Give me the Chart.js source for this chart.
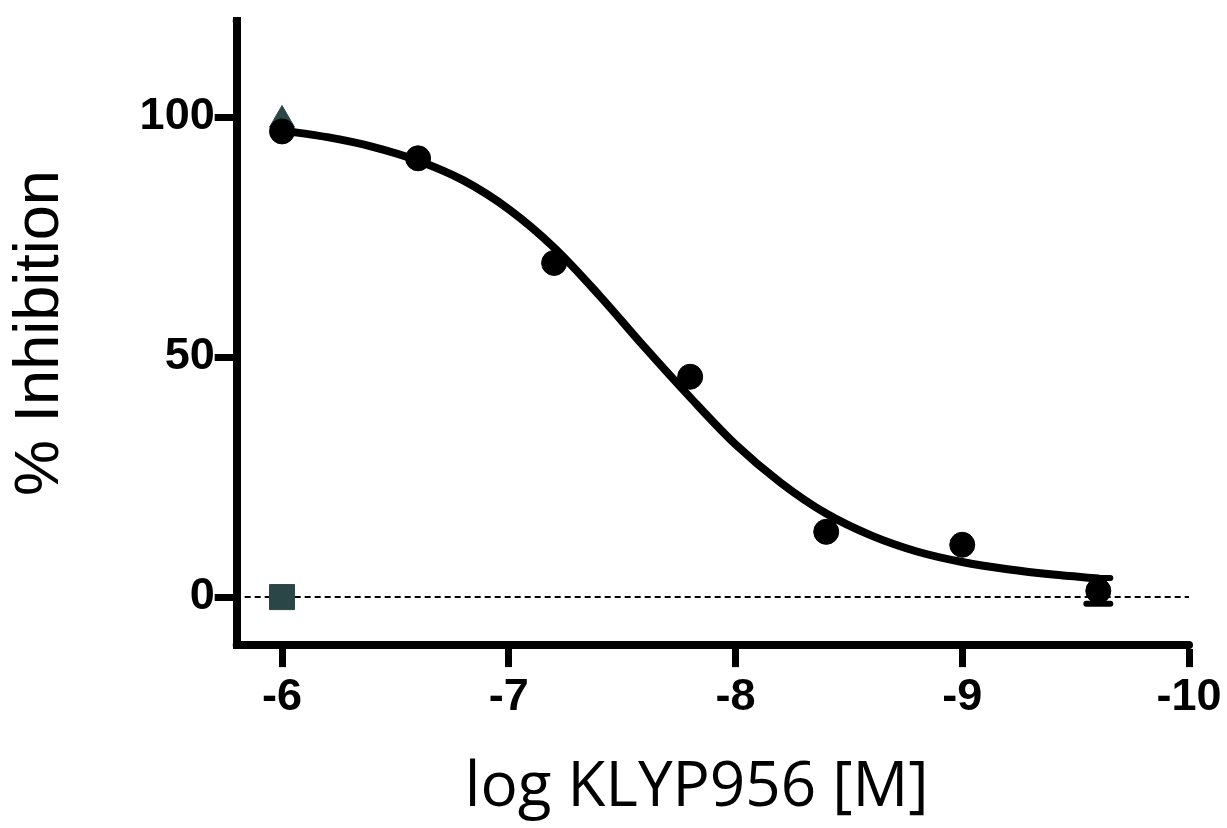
<!DOCTYPE html>
<html>
<head>
<meta charset="utf-8">
<script src="https://cdn.jsdelivr.net/npm/chart.js@4.4.0/dist/chart.umd.min.js"></script>
<style>
  html, body { margin: 0; padding: 0; background: #fff; }
</style>
</head>
<body>
<canvas id="ic50-canvas" width="1227" height="828"></canvas>
<script>
'use strict';

// tick labels
var xTicks = [-10, -9, -8, -7, -6];
var yTicks = [0, 50, 100];

// measured points (mean), last one has an error bar
var logConc = [-6.0, -6.6, -7.2, -7.8, -8.4, -9.0, -9.6];
var inhibition = [97.0, 91.4, 69.6, 45.9, 13.6, 10.9, 1.3];
var inhibitionErr = [0, 0, 0, 0, 0, 0, 2.7];

// controls at the top concentration
var controlX = [-6.0];
var maxControl = [99.4];
var minControl = [0];

// fitted curve
var fitX = [-6.0, -6.2, -6.4, -6.6, -6.8, -7.0, -7.2, -7.4, -7.6, -7.8,
            -8.0, -8.2, -8.4, -8.6, -8.8, -9.0, -9.2, -9.4, -9.6];
var fitY = [97.2, 95.8, 93.8, 90.9, 86.8, 80.8, 72.8, 62.8, 52.0, 41.6,
            31.8, 23.8, 17.4, 12.8, 9.5, 7.3, 5.8, 4.7, 3.9];

function pairs(xs, ys) {
  return xs.map(function(x, i) { return {x: x, y: ys[i]}; });
}

var controlColor = '#2b4647';
var tickFont = {family: 'Liberation Sans', size: 45, weight: 'bold', lineHeight: 0.8};

// dotted zero line behind everything
var zeroLine = {
  id: 'zeroLine',
  beforeDatasetsDraw: function(chart) {
    var ctx = chart.ctx, area = chart.chartArea;
    var y0 = chart.scales.y.getPixelForValue(0);
    ctx.save();
    ctx.strokeStyle = '#000';
    ctx.lineWidth = 2;
    ctx.setLineDash([6, 4]);
    ctx.beginPath();
    ctx.moveTo(area.left + 8, y0);
    ctx.lineTo(area.right, y0);
    ctx.stroke();
    ctx.restore();
  }
};

// SEM error bars
var errorBars = {
  id: 'errorBars',
  afterDatasetsDraw: function(chart) {
    var ctx = chart.ctx, xs = chart.scales.x, ys = chart.scales.y;
    ctx.save();
    ctx.strokeStyle = '#000';
    ctx.lineWidth = 6;
    ctx.lineCap = 'round';
    inhibitionErr.forEach(function(err, i) {
      if (!err) return;
      var px = xs.getPixelForValue(logConc[i]);
      var top = ys.getPixelForValue(inhibition[i] + err);
      var bot = ys.getPixelForValue(inhibition[i] - err);
      ctx.beginPath();
      ctx.moveTo(px, top); ctx.lineTo(px, bot);
      ctx.moveTo(px - 12, top); ctx.lineTo(px + 12, top);
      ctx.moveTo(px - 12, bot); ctx.lineTo(px + 12, bot);
      ctx.stroke();
    });
    ctx.restore();
  }
};

// round the axis ends and the corner like the original
var axisCaps = {
  id: 'axisCaps',
  afterDraw: function(chart) {
    var ctx = chart.ctx, a = chart.chartArea;
    ctx.save();
    ctx.fillStyle = '#000';
    [[a.left, a.top], [a.left, a.bottom], [a.right, a.bottom]].forEach(function(p) {
      ctx.beginPath();
      ctx.arc(p[0], p[1], 4, 0, Math.PI * 2);
      ctx.fill();
    });
    ctx.restore();
  }
};

var config = {
  type: 'scatter',
  data: {
    datasets: [
      {
        label: 'KLYP956',
        data: pairs(logConc, inhibition),
        backgroundColor: '#000',
        borderColor: '#000',
        pointRadius: 12.5,
        pointHoverRadius: 12.5
      },
      {
        label: 'fit',
        type: 'line',
        data: pairs(fitX, fitY),
        borderColor: '#000',
        borderWidth: 8,
        borderCapStyle: 'round',
        cubicInterpolationMode: 'monotone',
        pointRadius: 0,
        fill: false
      },
      {
        label: 'max',
        data: pairs(controlX, maxControl),
        pointStyle: 'triangle',
        backgroundColor: controlColor,
        borderColor: controlColor,
        pointRadius: 14.4
      },
      {
        label: 'min',
        data: pairs(controlX, minControl),
        pointStyle: 'rect',
        backgroundColor: controlColor,
        borderColor: controlColor,
        pointRadius: 17.7
      }
    ]
  },
  options: {
    responsive: false,
    animation: false,
    events: [],
    layout: { padding: { top: 21, right: 38, bottom: 0, left: 0 } },
    plugins: {
      legend: { display: false },
      tooltip: { enabled: false }
    },
    scales: {
      x: {
        type: 'linear',
        min: -10,
        max: -5.8,
        reverse: true,
        afterBuildTicks: function(axis) {
          axis.ticks = xTicks.map(function(v) { return {value: v}; });
        },
        border: { color: '#000', width: 8 },
        grid: { drawOnChartArea: false, drawTicks: true, tickLength: 22, tickWidth: 7, tickColor: '#000' },
        ticks: { color: '#000', font: tickFont, padding: 12, maxRotation: 0 },
        title: {
          display: true,
          text: 'log KLYP956 [M]\u00a0\u00a0',
          color: '#000',
          font: { family: 'Open Sans', size: 62, weight: 'normal', lineHeight: 1.2 },
          padding: { top: 24.5, bottom: 2 }
        }
      },
      y: {
        type: 'linear',
        min: -10,
        max: 120,
        afterBuildTicks: function(axis) {
          axis.ticks = yTicks.map(function(v) { return {value: v}; });
        },
        border: { color: '#000', width: 8 },
        grid: { drawOnChartArea: false, drawTicks: true, tickLength: 22, tickWidth: 7, tickColor: '#000' },
        ticks: { color: '#000', font: tickFont, padding: 0 },
        title: {
          display: true,
          text: '% Inhibition',
          color: '#000',
          font: { family: 'Liberation Sans', size: 63, weight: 'normal', lineHeight: 1.2 },
          padding: { top: 3, bottom: 61 }
        }
      }
    }
  },
  plugins: [zeroLine, errorBars, axisCaps]
};

window.chart = new Chart(document.getElementById('ic50-canvas'), config);
</script>
</body>
</html>
